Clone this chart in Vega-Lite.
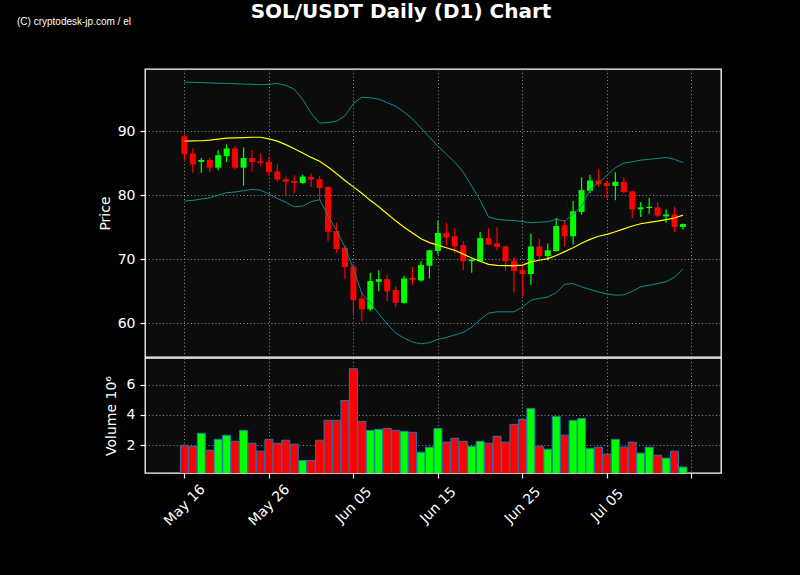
{
  "$schema": "https://vega.github.io/schema/vega-lite/v6.json",
  "background": "black",
  "padding": {"left": 16, "top": 2, "right": 80, "bottom": 52},
  "title": {
    "text": "SOL/USDT Daily (D1) Chart",
    "color": "white",
    "font": "DejaVu Sans",
    "fontSize": 20,
    "fontWeight": "bold",
    "anchor": "middle",
    "frame": "bounds",
    "dx": 32,
    "offset": -6
  },
  "config": {
    "font": "DejaVu Sans",
    "view": {"fill": "#0c0c0c", "stroke": "white", "strokeWidth": 1.3},
    "axis": {
      "labelColor": "white",
      "titleColor": "white",
      "tickColor": "white",
      "labelFontSize": 14,
      "titleFontSize": 14,
      "titleFontWeight": "normal",
      "gridColor": "#9a9a9a",
      "gridDash": [1, 2.5],
      "gridWidth": 0.9,
      "domain": false,
      "tickSize": 5,
      "tickWidth": 1.2,
      "labelPadding": 5
    }
  },
  "datasets": {
    "ohlc": [
      {"date": "2024-05-16", "open": 89.2, "high": 89.5, "low": 85.4, "close": 86.4, "volume": 2000000, "sma": 88.45, "upper": 97.66, "lower": 79.1},
      {"date": "2024-05-17", "open": 86.5, "high": 87.3, "low": 83.5, "close": 84.8, "volume": 1930000, "sma": 88.47, "upper": 97.62, "lower": 79.2},
      {"date": "2024-05-18", "open": 85.2, "high": 85.8, "low": 83.5, "close": 85.5, "volume": 2790000, "sma": 88.5, "upper": 97.58, "lower": 79.4},
      {"date": "2024-05-19", "open": 85.5, "high": 85.9, "low": 83.6, "close": 84.3, "volume": 1670000, "sma": 88.6, "upper": 97.52, "lower": 79.6},
      {"date": "2024-05-20", "open": 84.3, "high": 87.0, "low": 83.9, "close": 86.25, "volume": 2390000, "sma": 88.75, "upper": 97.47, "lower": 80.0},
      {"date": "2024-05-21", "open": 86.1, "high": 87.9, "low": 85.2, "close": 87.3, "volume": 2660000, "sma": 88.9, "upper": 97.45, "lower": 80.4},
      {"date": "2024-05-22", "open": 87.3, "high": 87.7, "low": 84.0, "close": 84.3, "volume": 2260000, "sma": 88.95, "upper": 97.4, "lower": 80.5},
      {"date": "2024-05-23", "open": 84.3, "high": 87.45, "low": 81.5, "close": 85.8, "volume": 2980000, "sma": 89.0, "upper": 97.35, "lower": 80.7},
      {"date": "2024-05-24", "open": 85.8, "high": 87.0, "low": 83.7, "close": 85.2, "volume": 2130000, "sma": 89.05, "upper": 97.3, "lower": 80.9},
      {"date": "2024-05-25", "open": 85.3, "high": 86.5, "low": 84.6, "close": 85.05, "volume": 1610000, "sma": 89.05, "upper": 97.25, "lower": 80.8},
      {"date": "2024-05-26", "open": 85.2, "high": 86.0, "low": 83.1, "close": 83.6, "volume": 2390000, "sma": 88.8, "upper": 97.3, "lower": 80.2},
      {"date": "2024-05-27", "open": 83.7, "high": 84.8, "low": 82.1, "close": 82.45, "volume": 2130000, "sma": 88.45, "upper": 97.45, "lower": 79.5},
      {"date": "2024-05-28", "open": 82.5, "high": 82.9, "low": 80.0, "close": 82.1, "volume": 2330000, "sma": 87.9, "upper": 97.14, "lower": 78.9},
      {"date": "2024-05-29", "open": 82.2, "high": 83.1, "low": 80.3, "close": 81.9, "volume": 2070000, "sma": 87.25, "upper": 96.56, "lower": 78.2},
      {"date": "2024-05-30", "open": 81.9, "high": 83.2, "low": 81.8, "close": 82.9, "volume": 990000, "sma": 86.6, "upper": 94.95, "lower": 78.3},
      {"date": "2024-05-31", "open": 82.85, "high": 83.4, "low": 81.3, "close": 82.45, "volume": 990000, "sma": 85.9, "upper": 92.77, "lower": 79.0},
      {"date": "2024-06-01", "open": 82.5, "high": 83.0, "low": 79.3, "close": 81.1, "volume": 2330000, "sma": 85.3, "upper": 91.25, "lower": 79.3},
      {"date": "2024-06-02", "open": 81.3, "high": 81.4, "low": 72.8, "close": 74.3, "volume": 3640000, "sma": 84.4, "upper": 91.35, "lower": 76.9},
      {"date": "2024-06-03", "open": 74.4, "high": 75.7, "low": 71.0, "close": 71.6, "volume": 3640000, "sma": 83.4, "upper": 91.56, "lower": 74.5},
      {"date": "2024-06-04", "open": 71.8, "high": 72.2, "low": 66.9, "close": 68.8, "volume": 4950000, "sma": 82.3, "upper": 92.4, "lower": 71.9},
      {"date": "2024-06-05", "open": 68.9, "high": 69.3, "low": 61.5, "close": 63.6, "volume": 7050000, "sma": 81.3, "upper": 94.3, "lower": 68.5},
      {"date": "2024-06-06", "open": 63.9, "high": 64.9, "low": 60.3, "close": 62.2, "volume": 3570000, "sma": 80.3, "upper": 95.3, "lower": 64.7},
      {"date": "2024-06-07", "open": 62.2, "high": 67.9, "low": 61.9, "close": 66.6, "volume": 2980000, "sma": 79.2, "upper": 95.2, "lower": 63.2},
      {"date": "2024-06-08", "open": 66.5, "high": 68.3, "low": 65.0, "close": 66.9, "volume": 3050000, "sma": 78.2, "upper": 95.0, "lower": 61.5},
      {"date": "2024-06-09", "open": 66.9, "high": 67.6, "low": 63.5, "close": 65.0, "volume": 3110000, "sma": 77.1, "upper": 94.45, "lower": 59.9},
      {"date": "2024-06-10", "open": 65.2, "high": 65.8, "low": 62.5, "close": 63.2, "volume": 2980000, "sma": 76.0, "upper": 93.9, "lower": 58.5},
      {"date": "2024-06-11", "open": 63.2, "high": 67.4, "low": 63.1, "close": 67.0, "volume": 2920000, "sma": 75.0, "upper": 92.97, "lower": 57.7},
      {"date": "2024-06-12", "open": 67.1, "high": 68.8, "low": 66.0, "close": 66.8, "volume": 2850000, "sma": 74.1, "upper": 91.9, "lower": 57.1},
      {"date": "2024-06-13", "open": 66.7, "high": 69.7, "low": 66.5, "close": 69.1, "volume": 1540000, "sma": 73.2, "upper": 90.5, "lower": 56.8},
      {"date": "2024-06-14", "open": 69.0, "high": 71.5, "low": 67.0, "close": 71.4, "volume": 1870000, "sma": 72.6, "upper": 89.06, "lower": 57.0},
      {"date": "2024-06-15", "open": 71.3, "high": 76.0, "low": 70.7, "close": 74.1, "volume": 3110000, "sma": 72.2, "upper": 87.66, "lower": 57.5},
      {"date": "2024-06-16", "open": 74.1, "high": 75.7, "low": 72.2, "close": 73.4, "volume": 2200000, "sma": 71.8, "upper": 86.4, "lower": 57.8},
      {"date": "2024-06-17", "open": 73.6, "high": 74.8, "low": 70.9, "close": 72.0, "volume": 2460000, "sma": 71.4, "upper": 85.16, "lower": 58.2},
      {"date": "2024-06-18", "open": 72.2, "high": 72.8, "low": 68.3, "close": 69.7, "volume": 2260000, "sma": 70.8, "upper": 83.6, "lower": 58.6},
      {"date": "2024-06-19", "open": 69.7, "high": 70.1, "low": 67.9, "close": 70.0, "volume": 1930000, "sma": 70.2, "upper": 81.4, "lower": 59.4},
      {"date": "2024-06-20", "open": 69.7, "high": 74.3, "low": 69.6, "close": 73.3, "volume": 2260000, "sma": 69.7, "upper": 79.2, "lower": 60.6},
      {"date": "2024-06-21", "open": 73.3, "high": 74.8, "low": 72.2, "close": 72.3, "volume": 2130000, "sma": 69.2, "upper": 76.6, "lower": 61.6},
      {"date": "2024-06-22", "open": 72.5, "high": 75.0, "low": 71.4, "close": 71.9, "volume": 2590000, "sma": 69.05, "upper": 76.25, "lower": 61.8},
      {"date": "2024-06-23", "open": 72.0, "high": 72.1, "low": 68.2, "close": 69.7, "volume": 2200000, "sma": 69.0, "upper": 76.1, "lower": 61.8},
      {"date": "2024-06-24", "open": 69.8, "high": 70.4, "low": 64.8, "close": 68.2, "volume": 3380000, "sma": 69.0, "upper": 76.05, "lower": 61.8},
      {"date": "2024-06-25", "open": 68.3, "high": 69.1, "low": 64.2, "close": 67.7, "volume": 3700000, "sma": 69.1, "upper": 75.9, "lower": 62.55},
      {"date": "2024-06-26", "open": 67.7, "high": 74.0, "low": 66.0, "close": 72.0, "volume": 4430000, "sma": 69.6, "upper": 75.7, "lower": 63.6},
      {"date": "2024-06-27", "open": 72.0, "high": 73.2, "low": 69.8, "close": 70.5, "volume": 1930000, "sma": 69.85, "upper": 75.8, "lower": 63.9},
      {"date": "2024-06-28", "open": 70.5, "high": 72.45, "low": 69.8, "close": 71.4, "volume": 1740000, "sma": 70.1, "upper": 75.86, "lower": 64.1},
      {"date": "2024-06-29", "open": 71.3, "high": 76.45, "low": 71.2, "close": 75.2, "volume": 3900000, "sma": 70.6, "upper": 76.25, "lower": 64.8},
      {"date": "2024-06-30", "open": 75.3, "high": 76.1, "low": 72.0, "close": 73.6, "volume": 2660000, "sma": 71.2, "upper": 75.94, "lower": 66.1},
      {"date": "2024-07-01", "open": 73.6, "high": 79.1, "low": 72.3, "close": 77.5, "volume": 3640000, "sma": 71.8, "upper": 77.03, "lower": 66.2},
      {"date": "2024-07-02", "open": 77.4, "high": 82.8, "low": 77.0, "close": 80.8, "volume": 3770000, "sma": 72.5, "upper": 78.28, "lower": 65.7},
      {"date": "2024-07-03", "open": 80.7, "high": 83.2, "low": 80.3, "close": 82.3, "volume": 1800000, "sma": 73.1, "upper": 80.8, "lower": 65.3},
      {"date": "2024-07-04", "open": 82.3, "high": 84.0, "low": 81.3, "close": 81.7, "volume": 1870000, "sma": 73.6, "upper": 81.95, "lower": 64.9},
      {"date": "2024-07-05", "open": 81.9, "high": 82.3, "low": 79.5, "close": 81.45, "volume": 1410000, "sma": 73.9, "upper": 83.1, "lower": 64.6},
      {"date": "2024-07-06", "open": 81.45, "high": 83.6, "low": 79.2, "close": 82.1, "volume": 2390000, "sma": 74.3, "upper": 84.3, "lower": 64.4},
      {"date": "2024-07-07", "open": 82.1, "high": 82.8, "low": 80.3, "close": 80.5, "volume": 1870000, "sma": 74.75, "upper": 85.0, "lower": 64.45},
      {"date": "2024-07-08", "open": 80.6, "high": 80.7, "low": 76.4, "close": 77.8, "volume": 2200000, "sma": 75.2, "upper": 85.23, "lower": 65.0},
      {"date": "2024-07-09", "open": 77.8, "high": 78.9, "low": 76.6, "close": 78.1, "volume": 1480000, "sma": 75.55, "upper": 85.47, "lower": 65.7},
      {"date": "2024-07-10", "open": 78.0, "high": 79.6, "low": 77.1, "close": 78.2, "volume": 1870000, "sma": 75.75, "upper": 85.6, "lower": 65.95},
      {"date": "2024-07-11", "open": 78.1, "high": 78.9, "low": 76.6, "close": 76.8, "volume": 1340000, "sma": 75.95, "upper": 85.73, "lower": 66.2},
      {"date": "2024-07-12", "open": 76.7, "high": 77.8, "low": 75.7, "close": 77.0, "volume": 1150000, "sma": 76.2, "upper": 85.9, "lower": 66.5},
      {"date": "2024-07-13", "open": 77.0, "high": 78.2, "low": 74.2, "close": 75.05, "volume": 1610000, "sma": 76.45, "upper": 85.6, "lower": 67.2},
      {"date": "2024-07-14", "open": 75.05, "high": 75.6, "low": 74.65, "close": 75.5, "volume": 560000, "sma": 76.9, "upper": 85.1, "lower": 68.5}
    ]
  },
  "data": {"name": "ohlc"},
  "spacing": -2,
  "vconcat": [
    {
      "width": 576,
      "height": 288,
      "title": {
        "text": "(C) cryptodesk-jp.com / el",
        "anchor": "start",
        "frame": "group",
        "dx": -128,
        "offset": 42,
        "font": "Liberation Sans",
        "fontSize": 10,
        "fontWeight": "normal",
        "color": "white"
      },
      "encoding": {
        "x": {
          "field": "date",
          "type": "temporal",
          "scale": {
            "type": "utc",
            "domain": [
              {"year": 2024, "month": 5, "date": 11, "hours": 22, "minutes": 19, "utc": true},
              {"year": 2024, "month": 7, "date": 17, "hours": 21, "minutes": 50, "utc": true}
            ]
          },
          "axis": {
            "values": [
              {"year": 2024, "month": 5, "date": 16, "utc": true},
              {"year": 2024, "month": 5, "date": 26, "utc": true},
              {"year": 2024, "month": 6, "date": 5, "utc": true},
              {"year": 2024, "month": 6, "date": 15, "utc": true},
              {"year": 2024, "month": 6, "date": 25, "utc": true},
              {"year": 2024, "month": 7, "date": 5, "utc": true},
              {"year": 2024, "month": 7, "date": 15, "utc": true}
            ],
            "labels": false,
            "ticks": false,
            "title": null,
            "grid": true
          }
        }
      },
      "layer": [
        {
          "mark": {"type": "rule", "strokeWidth": 1.2},
          "encoding": {
            "y": {
              "field": "low",
              "type": "quantitative",
              "title": "Price",
              "scale": {"domain": [54.75, 99.7], "zero": false, "nice": false},
              "axis": {"values": [60, 70, 80, 90], "titlePadding": 5}
            },
            "y2": {"field": "high"},
            "color": {"condition": {"test": "datum.close >= datum.open", "value": "#00ff00"}, "value": "#ff0000"}
          }
        },
        {
          "mark": {"type": "bar", "size": 6},
          "encoding": {
            "y": {"field": "open", "type": "quantitative", "title": "Price"},
            "y2": {"field": "close"},
            "color": {"condition": {"test": "datum.close >= datum.open", "value": "#00ff00"}, "value": "#ff0000"}
          }
        },
        {
          "mark": {"type": "line", "color": "#ffff00", "strokeWidth": 1.2},
          "encoding": {"y": {"field": "sma", "type": "quantitative", "title": "Price"}}
        },
        {
          "mark": {"type": "line", "color": "#0e8a8a", "strokeWidth": 1},
          "encoding": {"y": {"field": "upper", "type": "quantitative", "title": "Price"}}
        },
        {
          "mark": {"type": "line", "color": "#0e8a8a", "strokeWidth": 1},
          "encoding": {"y": {"field": "lower", "type": "quantitative", "title": "Price"}}
        }
      ]
    },
    {
      "width": 576,
      "height": 115,
      "mark": {"type": "bar", "size": 8, "stroke": "#1f77b4", "strokeWidth": 1, "clip": true},
      "encoding": {
        "x": {
          "field": "date",
          "type": "temporal",
          "scale": {
            "type": "utc",
            "domain": [
              {"year": 2024, "month": 5, "date": 11, "hours": 22, "minutes": 19, "utc": true},
              {"year": 2024, "month": 7, "date": 17, "hours": 21, "minutes": 50, "utc": true}
            ]
          },
          "axis": {
            "values": [
              {"year": 2024, "month": 5, "date": 16, "utc": true},
              {"year": 2024, "month": 5, "date": 26, "utc": true},
              {"year": 2024, "month": 6, "date": 5, "utc": true},
              {"year": 2024, "month": 6, "date": 15, "utc": true},
              {"year": 2024, "month": 6, "date": 25, "utc": true},
              {"year": 2024, "month": 7, "date": 5, "utc": true},
              {"year": 2024, "month": 7, "date": 15, "utc": true}
            ],
            "format": "%b %d",
            "labelExpr": "datum.label == 'Jul 15' ? '' : datum.label",
            "labelAngle": -45,
            "labelAlign": "center",
            "labelBaseline": "middle",
            "labelPadding": 27,
            "title": null,
            "grid": true
          }
        },
        "y": {
          "field": "volume",
          "type": "quantitative",
          "title": "Volume  10⁶",
          "scale": {"domain": [168000, 7755000], "zero": false, "nice": false},
          "axis": {"values": [2000000, 4000000, 6000000], "labelExpr": "datum.value / 1000000", "titlePadding": 8}
        },
        "color": {"condition": {"test": "datum.close >= datum.open", "value": "#00ff00"}, "value": "#ff0000"}
      }
    }
  ]
}
